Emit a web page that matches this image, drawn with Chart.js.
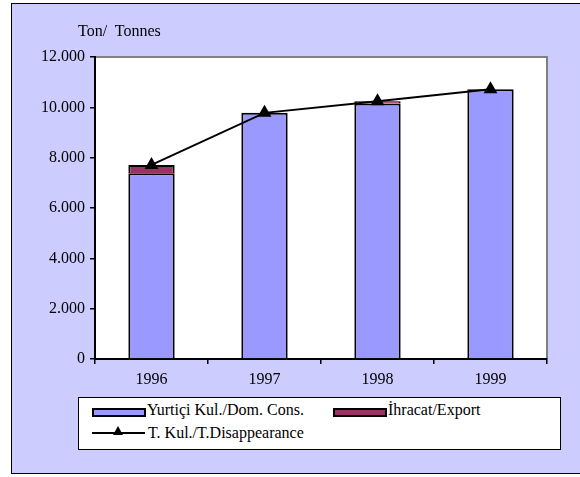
<!DOCTYPE html>
<html>
<head>
<meta charset="utf-8">
<script src="https://cdn.jsdelivr.net/npm/chart.js@4/dist/chart.umd.min.js"></script>
<style>
  html, body { margin: 0; padding: 0; background: #fff; }
  #wrap { position: relative; width: 580px; height: 477px; overflow: hidden; font-family: "Liberation Serif", "Times New Roman", serif; }
  #c { position: absolute; left: 0; top: 0; }
  .txt { position: absolute; font-size: 16px; line-height: 16px; color: #000; white-space: nowrap; }
  #legend { position: absolute; left: 78px; top: 397px; width: 481px; height: 51px; background: #fff; border: 1px solid #000; }
  .sw { position: absolute; height: 5px; width: 50px; border: 2px solid #000; }
  .ln { position: absolute; height: 0; width: 53px; border-top: 2px solid #000; }
  .tri { position: absolute; width: 0; height: 0; border-left: 5px solid transparent; border-right: 5px solid transparent; border-bottom: 9px solid #000; }
</style>
</head>
<body>
<div id="wrap">
  <canvas id="c" width="580" height="477"></canvas>
  <div class="txt" style="left:78px; top:23px;">Ton/&nbsp; Tonnes</div>
  <div id="legend"></div>
  <div class="sw" style="left:92px; top:408px; background:#9999FF;"></div>
  <div class="txt" style="left:147px; top:402px;">Yurtiçi Kul./Dom. Cons.</div>
  <div class="sw" style="left:333px; top:408px; background:#993366;"></div>
  <div class="txt" style="left:388px; top:402px;">İhracat/Export</div>
  <div class="ln" style="left:92px; top:432px;"></div>
  <div class="tri" style="left:113px; top:426px;"></div>
  <div class="txt" style="left:148px; top:425px;">T. Kul./T.Disappearance</div>
</div>
<script>
const years = ['1996', '1997', '1998', '1999'];
const domesticCons = [7380, 9780, 10150, 10720];
const exportVals = [330, 0, 95, 0];
const totalDisappearance = [7710, 9780, 10245, 10720];
const yTicks = [0, 2000, 4000, 6000, 8000, 10000, 12000];

const framePlugin = {
  id: 'frame',
  beforeDraw(chart) {
    const ctx = chart.ctx;
    const a = chart.chartArea;
    ctx.save();
    ctx.fillStyle = '#fff';
    ctx.fillRect(0, 0, chart.width, chart.height);
    ctx.fillStyle = '#CCCCFF';
    ctx.fillRect(11, 3, 600, 471);
    ctx.strokeStyle = '#000';
    ctx.lineWidth = 1;
    ctx.strokeRect(11.5, 3.5, 600, 470);
    ctx.fillStyle = '#fff';
    ctx.fillRect(a.left, a.top, a.right - a.left, a.bottom - a.top);
    ctx.strokeStyle = '#808080';
    ctx.lineWidth = 2;
    ctx.beginPath();
    ctx.moveTo(a.left, a.top);
    ctx.lineTo(a.right, a.top);
    ctx.lineTo(a.right, a.bottom);
    ctx.stroke();
    ctx.restore();
  }
};

const fontSpec = { family: '"Liberation Serif", "Times New Roman", serif', size: 16 };

new Chart(document.getElementById('c'), {
  type: 'bar',
  data: {
    labels: years,
    datasets: [
      {
        type: 'line',
        label: 'T. Kul./T.Disappearance',
        data: totalDisappearance,
        borderColor: '#000',
        backgroundColor: '#000',
        borderWidth: 2,
        pointStyle: 'triangle',
        pointRadius: 8,
        pointBackgroundColor: '#000',
        pointBorderColor: '#000',
        pointBorderWidth: 0,
        tension: 0,
        order: 0,
        clip: false
      },
      {
        label: 'Yurtiçi Kul./Dom. Cons.',
        data: domesticCons,
        backgroundColor: '#9999FF',
        borderColor: '#000',
        borderWidth: 2,
        stack: 's',
        categoryPercentage: 1,
        barPercentage: 0.41,
        order: 1
      },
      {
        label: 'İhracat/Export',
        data: exportVals,
        backgroundColor: '#993366',
        borderColor: '#000',
        borderWidth: 2,
        stack: 's',
        categoryPercentage: 1,
        barPercentage: 0.41,
        order: 1
      }
    ]
  },
  options: {
    responsive: false,
    animation: false,
    devicePixelRatio: 1,
    layout: { padding: { left: 10, right: 33, top: 57, bottom: 78 } },
    plugins: { legend: { display: false }, tooltip: { enabled: false } },
    scales: {
      x: {
        stacked: true,
        offset: true,
        grid: { offset: true, drawOnChartArea: false, drawTicks: true, tickLength: 5, color: '#000', lineWidth: 1.5 },
        border: { display: true, color: '#000', width: 2 },
        ticks: { color: '#000', font: fontSpec, padding: 6, maxRotation: 0 },
        afterFit(s) { s.height = 40; }
      },
      y: {
        stacked: true,
        min: 0,
        max: 12000,
        afterBuildTicks(s) { s.ticks = yTicks.map(v => ({ value: v })); },
        grid: { drawOnChartArea: false, drawTicks: true, tickLength: 5, color: '#000', lineWidth: 1.5 },
        border: { display: true, color: '#000', width: 2 },
        ticks: {
          color: '#000', font: fontSpec, padding: 5,
          callback: v => String(v).replace(/\B(?=(\d{3})+(?!\d))/g, '.')
        },
        afterFit(s) { s.width = 85; }
      }
    }
  },
  plugins: [framePlugin]
});
</script>
</body>
</html>
